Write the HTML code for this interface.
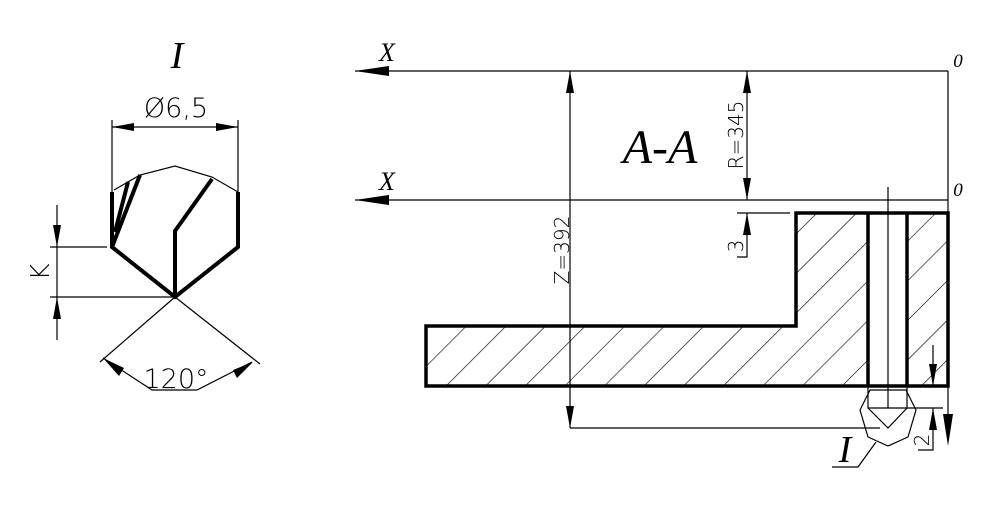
<!DOCTYPE html><html><head><style>body{margin:0;background:#fff}svg{display:block}</style></head><body>
<svg width="990" height="505" viewBox="0 0 990 505" xmlns="http://www.w3.org/2000/svg" font-family="DejaVu Sans, Liberation Sans, sans-serif">
<defs>
<pattern id="h" patternUnits="userSpaceOnUse" width="28" height="28" patternTransform="rotate(-45)">
<line x1="0" y1="0" x2="28" y2="0" stroke="#000" stroke-width="1.2"/></pattern>
</defs>
<g fill="none" stroke="#000" stroke-width="1.2">
<line x1="112" y1="120" x2="112" y2="192"/><line x1="238" y1="120" x2="238" y2="192"/>
<line x1="112" y1="127" x2="238" y2="127"/>
<polyline points="114,190 140,175 175,166 212,177 238,192"/>
<line x1="50" y1="247" x2="107" y2="247"/><line x1="50" y1="297" x2="175" y2="297"/>
<line x1="57" y1="205" x2="57" y2="340"/>
<line x1="175" y1="297" x2="100" y2="362"/><line x1="175" y1="297" x2="260" y2="364"/>
<polyline points="103,358 152,390 197,390 252,362"/>
<line x1="355" y1="71" x2="948" y2="71"/>
<line x1="355" y1="200" x2="948" y2="200"/>
<line x1="948" y1="71" x2="948" y2="440"/>
<line x1="570" y1="71" x2="570" y2="428"/>
<line x1="570" y1="428" x2="880" y2="428"/>
<line x1="747" y1="71" x2="747" y2="200"/>
<line x1="737" y1="213" x2="790" y2="213"/>
<polyline points="747,213 747,257 737,257"/>
<path d="M426,326H796V213H948V386H426Z" fill="url(#h)" stroke="none"/>
<rect x="868" y="213" width="39" height="173" fill="#fff" stroke="none"/>
<path d="M426,326H796V213H948V386H426Z" stroke-width="3.5"/>
<line x1="868" y1="213" x2="868" y2="386" stroke-width="3.5"/>
<line x1="907" y1="213" x2="907" y2="386" stroke-width="3.5"/>
<line x1="888" y1="187" x2="888" y2="408"/>
<polygon points="870,390 906,390 916,410 908,437 888,446 868,437 860,410"/>
<polyline points="868,386 868,408 888,428 907,408 907,386"/>
<line x1="868" y1="408" x2="943" y2="408"/>
<line x1="933" y1="345" x2="933" y2="386"/>
<polyline points="933,408 933,450 918,450"/>
<polyline points="876,442 858,467 832,467"/>
</g>
<g fill="#000" stroke="none">
<polygon points="112,127 134,123 134,131"/><polygon points="238,127 216,123 216,131"/>
<polygon points="57,247 53,225 61,225"/><polygon points="57,297 53,319 61,319"/>
<polygon points="103,358 119,376 124,368"/><polygon points="253,362 233,370 237,378"/>
<polygon points="355,71 389,66 389,76"/><polygon points="355,200 389,195 389,205"/>
<polygon points="948,446 943,414 953,414"/>
<polygon points="570,71 566,93 574,93"/><polygon points="570,428 566,406 574,406"/>
<polygon points="747,71 743,93 751,93"/><polygon points="747,200 743,178 751,178"/>
<polygon points="747,213 743,235 751,235"/>
<polygon points="933,386 929,364 937,364"/><polygon points="933,408 929,430 937,430"/>
</g>
<g fill="none" stroke="#000" stroke-width="4" stroke-linejoin="miter">
<polyline points="112,192 112,247 175,297 238,247 238,192"/>
<polyline points="175,297 175,231 212,179"/>
<line x1="112" y1="247" x2="140" y2="175"/>
<line x1="115" y1="232" x2="128" y2="182"/>
</g>
<g font-family="Liberation Serif, serif" font-style="italic">
<text x="177" y="68" font-size="38" text-anchor="middle">I</text>
<text x="660" y="163" font-size="48" text-anchor="middle">A-A</text>
<text x="845" y="462" font-size="38" text-anchor="middle">I</text>
<text x="387" y="61" font-size="26" text-anchor="middle">X</text>
<text x="387" y="190" font-size="26" text-anchor="middle">X</text>
<text x="958" y="67" font-size="19" text-anchor="middle">0</text>
<text x="958" y="196" font-size="19" text-anchor="middle">0</text>
</g>
<g font-size="27" text-anchor="middle" font-weight="200">
<text x="176" y="117">Ø6,5</text>
<text x="176" y="388">120°</text>
<text transform="translate(49,272) rotate(-90)" font-size="26">K</text>
<text transform="translate(743,135) rotate(-90)" font-size="20">R=345</text>
<text transform="translate(569,250) rotate(-90)" font-size="20">Z=392</text>
<text transform="translate(743,246) rotate(-90)" font-size="20">3</text>
<text transform="translate(929,440) rotate(-90)" font-size="20">2</text>
</g>
</svg>
</body></html>
